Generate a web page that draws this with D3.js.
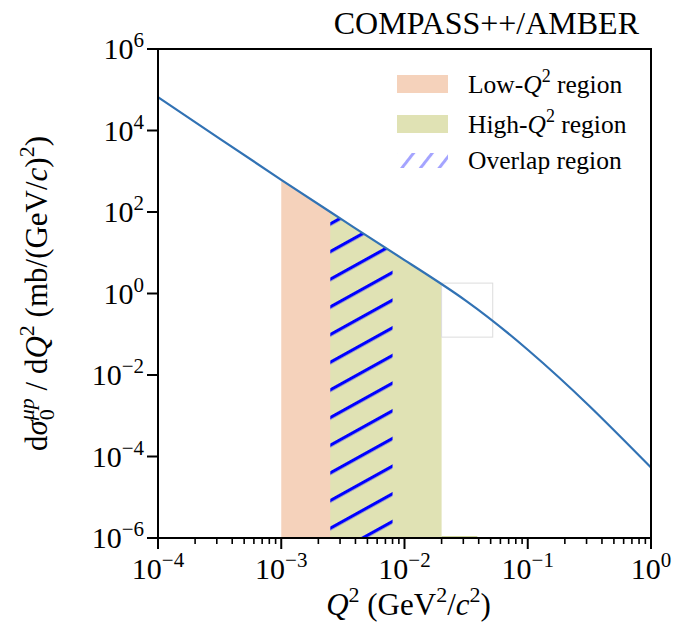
<!DOCTYPE html>
<html>
<head>
<meta charset="utf-8">
<script src="https://cdn.jsdelivr.net/npm/d3@7"></script>
<style>
  html, body { margin: 0; padding: 0; background: #fff; }
  svg { display: block; }
  text { font-family: "Liberation Serif", "Times New Roman", serif; fill: #000; }
</style>
</head>
<body>
<svg id="chart" width="675" height="633"></svg>
<script>
// Differential cross section dσ/dQ² (mb/(GeV/c)²) versus Q² (GeV²/c²)
const q2Values    = [1e-4, 3.16e-4, 1e-3, 3.16e-3, 1e-2, 3.16e-2, 0.1, 0.316, 1];
const sigmaValues = [6.6e4, 6.31e3, 617, 63.1, 6.61, 0.661, 0.0417, 1.74e-3, 5.37e-5];

// Q² ranges of the two kinematic regions and their overlap
const lowRegion     = [1e-3, 8e-3];
const highRegion    = [2.5e-3, 2e-2];
const overlapRegion = [2.5e-3, 8e-3];
const highTail      = [2e-2, 3.9e-2];
const insetBoxQ2    = [2e-2, 5.2e-2];
const insetBoxSigma = [0.085, 1.8];

const xTicks = [1e-4, 1e-3, 1e-2, 1e-1, 1];
const xTickExps = ["\u22124", "\u22123", "\u22122", "\u22121", "0"];
const yTicks = [1e-6, 1e-4, 1e-2, 1, 1e2, 1e4, 1e6];
const yTickExps = ["\u22126", "\u22124", "\u22122", "0", "2", "4", "6"];

const legendLabels = ["Low-", "High-", "Overlap region"];

(function draw() {
const svg = d3.select("#chart");
const mLeft = 158, mRight = 651, mTop = 49, mBottom = 538;

const x = d3.scaleLog().domain([1e-4, 1]).range([mLeft, mRight]);
const y = d3.scaleLog().domain([1e-6, 1e6]).range([mBottom, mTop]);

const pts = q2Values.map((q, i) => [q, sigmaValues[i]]);

const defs = svg.append("defs");
defs.append("clipPath").attr("id", "plotClip")
  .append("rect").attr("x", mLeft).attr("y", mTop).attr("width", mRight - mLeft).attr("height", mBottom - mTop);

// hatch for the overlap band
const hatch = defs.append("pattern").attr("id", "hatch")
  .attr("patternUnits", "userSpaceOnUse")
  .attr("width", 20).attr("height", 24.2)
  .attr("patternTransform", `translate(${x(overlapRegion[0])},443.5) rotate(-29)`);
hatch.append("rect").attr("x", 0).attr("y", 0).attr("width", 20).attr("height", 3.2).attr("fill", "#0000ff");

const hatchLegend = defs.append("pattern").attr("id", "hatchLegend")
  .attr("patternUnits", "userSpaceOnUse")
  .attr("width", 20).attr("height", 14.7)
  .attr("patternTransform", "translate(400,168) rotate(-52)");
hatchLegend.append("rect").attr("x", 0).attr("y", 0).attr("width", 20).attr("height", 3).attr("fill", "#a4a4ff");

const area = d3.area()
  .x(d => x(d[0])).y0(y(1e-6)).y1(d => y(d[1]))
  .curve(d3.curveNatural);
const line = d3.line()
  .x(d => x(d[0])).y(d => y(d[1]))
  .curve(d3.curveNatural);

function band(range, id) {
  defs.append("clipPath").attr("id", id)
    .append("rect")
    .attr("x", x(range[0])).attr("y", mTop)
    .attr("width", x(range[1]) - x(range[0])).attr("height", mBottom - mTop);
  return svg.append("path").datum(pts)
    .attr("clip-path", `url(#${id})`)
    .attr("d", area);
}

band(lowRegion, "clipLow").attr("fill", "#f5d2bb");
band(highRegion, "clipHigh").attr("fill", "#e0e2b4");
band(overlapRegion, "clipOverlap").attr("fill", "url(#hatch)");

// thin tail of the high-Q² band along the lower edge
svg.append("line")
  .attr("x1", x(highTail[0])).attr("x2", x(highTail[1]))
  .attr("y1", y(1e-6) - 1.5).attr("y2", y(1e-6) - 1.5)
  .attr("stroke", "#cdd39a").attr("stroke-width", 1.2);

// faint inset frame
svg.append("rect")
  .attr("x", x(insetBoxQ2[0])).attr("y", y(insetBoxSigma[1]))
  .attr("width", x(insetBoxQ2[1]) - x(insetBoxQ2[0]))
  .attr("height", y(insetBoxSigma[0]) - y(insetBoxSigma[1]))
  .attr("fill", "#fff").attr("stroke", "#dcdcdc").attr("stroke-width", 1);

// cross-section curve
svg.append("path").datum(pts)
  .attr("clip-path", "url(#plotClip)")
  .attr("fill", "none").attr("stroke", "#3172b4").attr("stroke-width", 2.2)
  .attr("d", line);

// frame
svg.append("rect").attr("x", mLeft).attr("y", mTop)
  .attr("width", mRight - mLeft).attr("height", mBottom - mTop)
  .attr("fill", "none").attr("stroke", "#000").attr("stroke-width", 2);

const tickFont = 30, supFont = 21;

// x axis ticks
const xAxis = svg.append("g");
const minor = [];
for (let e = -4; e < 0; e++) for (let m = 2; m <= 9; m++) minor.push(m * Math.pow(10, e));
xAxis.selectAll("line.minor").data(minor).join("line").attr("class", "minor")
  .attr("x1", d => x(d)).attr("x2", d => x(d))
  .attr("y1", mBottom).attr("y2", mBottom + 6)
  .attr("stroke", "#000").attr("stroke-width", 1.6);
xAxis.selectAll("line.major").data(xTicks).join("line").attr("class", "major")
  .attr("x1", d => x(d)).attr("x2", d => x(d))
  .attr("y1", mBottom).attr("y2", mBottom + 11)
  .attr("stroke", "#000").attr("stroke-width", 2);
const xl = xAxis.selectAll("text").data(xTicks).join("text")
  .attr("x", d => x(d)).attr("y", mBottom + 41)
  .attr("text-anchor", "middle").attr("font-size", tickFont);
xl.append("tspan").text("10");
xl.append("tspan").attr("dy", -12).attr("font-size", supFont).text((d, i) => xTickExps[i]);

// y axis ticks
const yAxis = svg.append("g");
yAxis.selectAll("line").data(yTicks).join("line")
  .attr("x1", mLeft - 11).attr("x2", mLeft)
  .attr("y1", d => y(d)).attr("y2", d => y(d))
  .attr("stroke", "#000").attr("stroke-width", 2);
const yl = yAxis.selectAll("text").data(yTicks).join("text")
  .attr("x", mLeft - 14).attr("y", d => y(d) + 10)
  .attr("text-anchor", "end").attr("font-size", tickFont);
yl.append("tspan").text("10");
yl.append("tspan").attr("dy", -12).attr("font-size", supFont).text((d, i) => yTickExps[i]);

// axis titles
const labFont = 31, labSup = 22;
const xt = svg.append("text").attr("x", (mLeft + mRight) / 2 + 4).attr("y", 615)
  .attr("text-anchor", "middle").attr("font-size", labFont);
xt.append("tspan").attr("font-style", "italic").text("Q");
xt.append("tspan").attr("dy", -13).attr("font-size", labSup).text("2");
xt.append("tspan").attr("dy", 13).text(" (GeV");
xt.append("tspan").attr("dy", -13).attr("font-size", labSup).text("2");
xt.append("tspan").attr("dy", 13).text("/");
xt.append("tspan").attr("font-style", "italic").text("c");
xt.append("tspan").attr("dy", -13).attr("font-size", labSup).text("2");
xt.append("tspan").attr("dy", 13).text(")");

const yt = svg.append("text")
  .attr("transform", `translate(47,${(mTop + mBottom) / 2}) rotate(-90)`)
  .attr("text-anchor", "middle").attr("font-size", labFont);
yt.append("tspan").text("d");
yt.append("tspan").attr("font-style", "italic").text("\u03c3");
yt.append("tspan").attr("dy", -13).attr("font-size", labSup).attr("font-style", "italic").text("\u03bcp");
yt.append("tspan").attr("dy", 20).attr("dx", -22).attr("font-size", labSup).text("0");
yt.append("tspan").attr("dy", -7).attr("dx", 11).text(" / d");
yt.append("tspan").attr("font-style", "italic").text("Q");
yt.append("tspan").attr("dy", -13).attr("font-size", labSup).text("2");
yt.append("tspan").attr("dy", 13).text(" (mb/(GeV/");
yt.append("tspan").attr("font-style", "italic").text("c");
yt.append("tspan").text(")");
yt.append("tspan").attr("dy", -13).attr("font-size", labSup).text("2");
yt.append("tspan").attr("dy", 13).text(")");

// experiment tag
svg.append("text").attr("x", 639).attr("y", 34)
  .attr("text-anchor", "end").attr("font-size", 32).text("COMPASS++/AMBER");

// legend
const lg = svg.append("g");
const swatchFill = ["#f5d2bb", "#e0e2b4", "url(#hatchLegend)"];
const rowY = [84, 124, 160];
lg.selectAll("rect").data(rowY).join("rect")
  .attr("x", 397).attr("y", (d, i) => i < 2 ? d - 9 : d - 7)
  .attr("width", 51).attr("height", (d, i) => i < 2 ? 18 : 15)
  .attr("fill", (d, i) => swatchFill[i]);
legendLabels.forEach((lab, i) => {
  const t = lg.append("text").attr("x", 468).attr("y", rowY[i] + 9).attr("font-size", 25.5);
  t.append("tspan").text(lab);
  if (i < 2) {
    t.append("tspan").attr("font-style", "italic").text("Q");
    t.append("tspan").attr("dy", -11).attr("font-size", 18).text("2");
    t.append("tspan").attr("dy", 11).text(" region");
  }
});
})();
</script>
</body>
</html>
